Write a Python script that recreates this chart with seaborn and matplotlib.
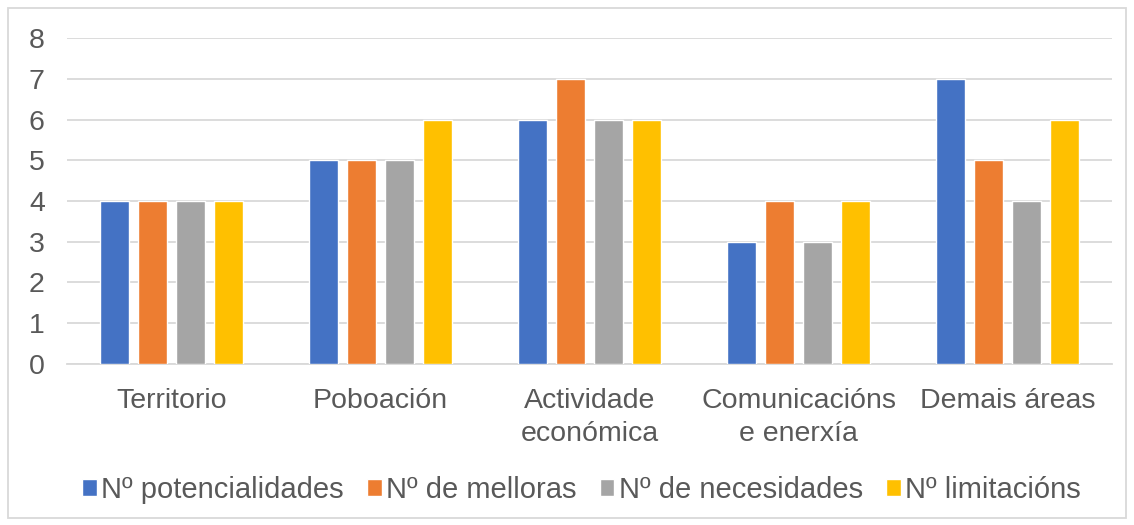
import pandas as pd
import seaborn as sns
import matplotlib.pyplot as plt
from matplotlib.patches import Rectangle

# Chart data
categories = ['Territorio', 'Poboación', 'Actividade\neconómica',
              'Comunicacións\ne enerxía', 'Demais áreas']
series_names = ['Nº potencialidades', 'Nº de melloras',
                'Nº de necesidades', 'Nº limitacións']
potencialidades = [4, 5, 6, 3, 7]
melloras = [4, 5, 7, 4, 5]
necesidades = [4, 5, 6, 3, 4]
limitacions = [4, 6, 6, 4, 6]
colors = ['#4472C4', '#ED7D31', '#A5A5A5', '#FFC000']

# long format table for seaborn
df = pd.DataFrame({
    'categoria': categories * 4,
    'serie': [s for s in series_names for _ in categories],
    'valor': potencialidades + melloras + necesidades + limitacions,
})

sns.set_theme(style='white')
plt.rcParams['font.family'] = ['Liberation Sans', 'DejaVu Sans']
text_color = '#595959'

fig = plt.figure(figsize=(11.34, 5.25), dpi=100)
ax = fig.add_axes([0.0591, 0.3067, 0.9215, 0.6209])

sns.barplot(data=df, x='categoria', y='valor', hue='serie',
            palette=colors, width=0.727, gap=0.24, ax=ax,
            saturation=1, errorbar=None, zorder=3)

ax.set_ylim(0, 8)
ax.set_yticks(range(0, 9))
ax.set_xlim(-0.5, 4.5)
ax.yaxis.grid(True, color='#d9d9d9', linewidth=1.3, zorder=0)
ax.set_axisbelow(True)
for side in ['top', 'right', 'left']:
    ax.spines[side].set_visible(False)
ax.spines['bottom'].set_color('#d9d9d9')
ax.spines['bottom'].set_linewidth(1.3)
ax.set_xlabel('')
ax.set_ylabel('')
ax.tick_params(axis='both', length=0, labelsize=20.5, labelcolor=text_color)
ax.tick_params(axis='x', pad=17)
ax.tick_params(axis='y', pad=16)
for lbl in ax.get_xticklabels():
    lbl.set_linespacing(1.35)

# legend sits a bit right of the figure centre, like the original
ax.legend(loc='center', bbox_to_anchor=(581.5 / 1134, 1 - 490 / 525),
          bbox_transform=fig.transFigure,
          frameon=False, ncol=4, fontsize=21, labelcolor=text_color,
          handlelength=0.5, handleheight=0.5, handletextpad=0.15,
          columnspacing=0.8)

# light border around the whole chart
fig.patches.append(Rectangle((8 / 1134, 7 / 525), 1118 / 1134, 510 / 525,
                             transform=fig.transFigure, fill=False,
                             edgecolor='#d9d9d9', linewidth=1.3))

fig.savefig('out.png', dpi=100)
